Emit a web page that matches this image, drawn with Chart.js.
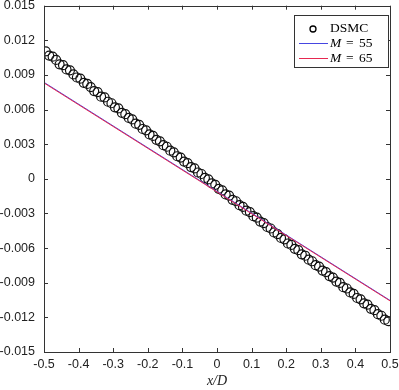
<!DOCTYPE html>
<html>
<head>
<meta charset="utf-8">
<script src="https://cdn.jsdelivr.net/npm/chart.js@4/dist/chart.umd.min.js"></script>
<style>
  body { margin: 0; background: #fff; }
  canvas { display: block; }
</style>
</head>
<body>
<canvas id="chart" width="399" height="390"></canvas>
<script>
// x positions of DSMC samples (x/D)
const dsmcX = [
  -0.495, -0.485, -0.475, -0.465, -0.455, -0.445, -0.435, -0.425, -0.415, -0.405,
  -0.395, -0.385, -0.375, -0.365, -0.355, -0.345, -0.335, -0.325, -0.315, -0.305,
  -0.295, -0.285, -0.275, -0.265, -0.255, -0.245, -0.235, -0.225, -0.215, -0.205,
  -0.195, -0.185, -0.175, -0.165, -0.155, -0.145, -0.135, -0.125, -0.115, -0.105,
  -0.095, -0.085, -0.075, -0.065, -0.055, -0.045, -0.035, -0.025, -0.015, -0.005,
  0.005, 0.015, 0.025, 0.035, 0.045, 0.055, 0.065, 0.075, 0.085, 0.095,
  0.105, 0.115, 0.125, 0.135, 0.145, 0.155, 0.165, 0.175, 0.185, 0.195,
  0.205, 0.215, 0.225, 0.235, 0.245, 0.255, 0.265, 0.275, 0.285, 0.295,
  0.305, 0.315, 0.325, 0.335, 0.345, 0.355, 0.365, 0.375, 0.385, 0.395,
  0.405, 0.415, 0.425, 0.435, 0.445, 0.455, 0.465, 0.475, 0.485, 0.495
];
const dsmcY = [
  0.01105, 0.01068, 0.01058, 0.01030, 0.00992, 0.00985, 0.00948, 0.00940, 0.00905, 0.00878,
  0.00868, 0.00832, 0.00822, 0.00795, 0.00760, 0.00752, 0.00712, 0.00705, 0.00668, 0.00655,
  0.00620, 0.00610, 0.00572, 0.00560, 0.00528, 0.00515, 0.00478, 0.00468, 0.00432, 0.00420,
  0.00385, 0.00372, 0.00338, 0.00325, 0.00292, 0.00278, 0.00244, 0.00230, 0.00196, 0.00184,
  0.00150, 0.00136, 0.00102, 0.00090, 0.00055, 0.00042, 0.00008, -0.00005, -0.00040, -0.00052,
  -0.00086, -0.00100, -0.00135, -0.00146, -0.00182, -0.00194, -0.00228, -0.00242, -0.00276, -0.00288,
  -0.00323, -0.00336, -0.00370, -0.00383, -0.00417, -0.00430, -0.00464, -0.00478, -0.00512, -0.00524,
  -0.00560, -0.00572, -0.00606, -0.00618, -0.00654, -0.00666, -0.00700, -0.00714, -0.00748, -0.00760,
  -0.00795, -0.00808, -0.00842, -0.00855, -0.00890, -0.00902, -0.00938, -0.00950, -0.00984, -0.00997,
  -0.01032, -0.01044, -0.01078, -0.01090, -0.01126, -0.01138, -0.01172, -0.01186, -0.01220, -0.01232
];

// model lines, end points
const lineX = [-0.5, 0.5];
const m55Y = [0.00836, -0.01053];
const m65Y = [0.00831, -0.01057];

const xTicks = [-0.5, -0.4, -0.3, -0.2, -0.1, 0, 0.1, 0.2, 0.3, 0.4, 0.5];
const yTicks = [-0.015, -0.012, -0.009, -0.006, -0.003, 0, 0.003, 0.006, 0.009, 0.012, 0.015];

const toPts = (xs, ys) => xs.map((x, i) => ({ x: x, y: ys[i] }));

const axisColor = '#333';
const tickFont = { family: 'Liberation Sans', size: 12.5 };

// inward ticks on all four sides + box
const boxTicks = {
  id: 'boxTicks',
  afterDraw(chart) {
    const ctx = chart.ctx;
    const a = chart.chartArea;
    const xs = chart.scales.x, ys = chart.scales.y;
    const len = 4;
    ctx.save();
    ctx.strokeStyle = axisColor;
    ctx.lineWidth = 1;
    ctx.beginPath();
    xTicks.forEach(v => {
      const px = Math.round(xs.getPixelForValue(v)) + 0.5;
      ctx.moveTo(px, a.bottom); ctx.lineTo(px, a.bottom - len);
      ctx.moveTo(px, a.top); ctx.lineTo(px, a.top + len);
    });
    yTicks.forEach(v => {
      const py = Math.round(ys.getPixelForValue(v)) + 0.5;
      ctx.moveTo(a.left, py); ctx.lineTo(a.left + len, py);
      ctx.moveTo(a.right, py); ctx.lineTo(a.right - len, py);
    });
    ctx.stroke();
    ctx.strokeRect(Math.round(a.left) + 0.5, Math.round(a.top) + 0.5,
      Math.round(a.right - a.left), Math.round(a.bottom - a.top));
    ctx.restore();
  }
};

// legend box, top right
const boxLegend = {
  id: 'boxLegend',
  afterDraw(chart) {
    const ctx = chart.ctx;
    ctx.save();
    ctx.fillStyle = '#fff';
    ctx.fillRect(294.5, 15.5, 94, 52);
    ctx.strokeStyle = axisColor;
    ctx.lineWidth = 1;
    ctx.strokeRect(294.5, 15.5, 94, 52);

    ctx.beginPath();
    ctx.arc(313, 29, 3, 0, Math.PI * 2);
    ctx.strokeStyle = '#000';
    ctx.lineWidth = 1.3;
    ctx.stroke();

    ctx.lineWidth = 1;
    ctx.strokeStyle = 'rgb(70,70,225)';
    ctx.beginPath(); ctx.moveTo(299, 43.5); ctx.lineTo(328, 43.5); ctx.stroke();
    ctx.strokeStyle = 'rgb(230,40,80)';
    ctx.beginPath(); ctx.moveTo(299, 58.5); ctx.lineTo(328, 58.5); ctx.stroke();

    ctx.fillStyle = '#000';
    ctx.textBaseline = 'middle';
    ctx.font = '13.5px "Liberation Serif"';
    ctx.fillText('DSMC', 330, 28);
    [['55', 43], ['65', 58]].forEach(([n, y]) => {
      ctx.font = 'italic 13.5px "Liberation Serif"';
      ctx.fillText('M', 330, y);
      ctx.font = '13.5px "Liberation Serif"';
      ctx.fillText('=', 346, y);
      ctx.fillText(n, 359, y);
    });
    ctx.restore();
  }
};

new Chart(document.getElementById('chart'), {
  type: 'scatter',
  data: {
    datasets: [
      {
        label: 'M = 65',
        type: 'line',
        data: toPts(lineX, m65Y),
        borderColor: 'rgb(230,40,80)',
        borderWidth: 1,
        pointRadius: 0,
        fill: false,
        order: 0
      },
      {
        label: 'M = 55',
        type: 'line',
        data: toPts(lineX, m55Y),
        borderColor: 'rgb(70,70,225)',
        borderWidth: 1,
        pointRadius: 0,
        fill: false,
        order: 1
      },
      {
        label: 'DSMC',
        data: toPts(dsmcX, dsmcY),
        showLine: false,
        pointStyle: 'circle',
        pointRadius: 4.5,
        pointBorderWidth: 1.2,
        pointBorderColor: '#111',
        pointBackgroundColor: 'rgba(0,0,0,0)',
        order: 2
      }
    ]
  },
  options: {
    responsive: false,
    animation: false,
    layout: { padding: { top: 5, right: 9, left: 0, bottom: 0 } },
    plugins: { legend: { display: false }, tooltip: { enabled: false } },
    scales: {
      x: {
        type: 'linear',
        min: -0.5, max: 0.5,
        afterFit: s => { s.height = 38; s.paddingLeft = 0; s.paddingRight = 0; },
        afterBuildTicks: s => { s.ticks = xTicks.map(v => ({ value: v })); },
        grid: { display: false, drawTicks: false },
        border: { display: false },
        ticks: {
          color: '#222',
          font: tickFont,
          padding: 5,
          maxRotation: 0,
          callback: v => (Math.abs(v) < 1e-9 ? '0' : String(Math.round(v * 10) / 10))
        },
        title: {
          display: true,
          text: 'x/D',
          color: '#222',
          font: { family: 'Liberation Serif', size: 14, style: 'italic' },
          padding: { top: 0, bottom: 0 }
        }
      },
      y: {
        type: 'linear',
        min: -0.015, max: 0.015,
        afterFit: s => { s.width = 44; s.paddingTop = 0; s.paddingBottom = 0; },
        afterBuildTicks: s => { s.ticks = yTicks.map(v => ({ value: v })); },
        grid: { display: false, drawTicks: false },
        border: { display: false },
        ticks: {
          color: '#222',
          font: tickFont,
          padding: 9,
          callback: v => (Math.abs(v) < 1e-9 ? '0' : v.toFixed(3))
        }
      }
    }
  },
  plugins: [boxTicks, boxLegend]
});
</script>
</body>
</html>
